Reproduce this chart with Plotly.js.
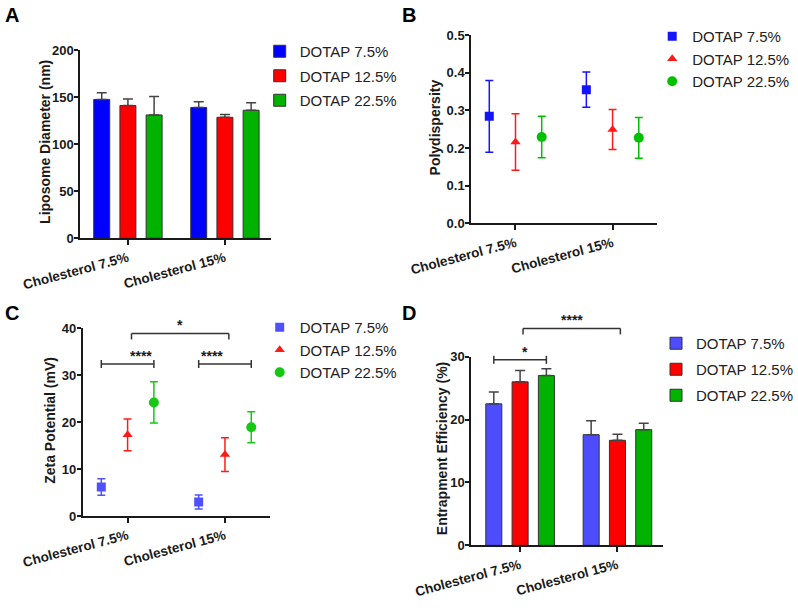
<!DOCTYPE html>
<html>
<head>
<meta charset="utf-8">
<script src="https://cdn.plot.ly/plotly-3.0.1.min.js"></script>
<style>
  html, body { margin: 0; padding: 0; background: #fff; }
  #chart { width: 798px; height: 608px; }
</style>
</head>
<body>
<div id="chart"></div>
<script>
// categories and series
var groups = ["Cholesterol 7.5%", "Cholesterol 15%"];
var dotap = ["DOTAP 7.5%", "DOTAP 12.5%", "DOTAP 22.5%"];

// A - liposome diameter (nm)
var dia75 = [147.5, 139], dia75Err = [7, 6];
var dia125 = [141, 128.5], dia125Err = [7, 3];
var dia225 = [131, 136], dia225Err = [19.5, 8];

// B - polydispersity
var pdi75 = [0.284, 0.355], pdi75Err = [0.095, 0.047];
var pdi125 = [0.216, 0.249], pdi125Err = [0.075, 0.053];
var pdi225 = [0.229, 0.227], pdi225Err = [0.055, 0.054];

// C - zeta potential (mV)
var zeta75 = [6.2, 3.0], zeta75Err = [1.75, 1.5];
var zeta125 = [17.3, 13.1], zeta125Err = [3.4, 3.6];
var zeta225 = [24.2, 18.9], zeta225Err = [4.4, 3.3];

// D - entrapment efficiency (%)
var ee75 = [22.5, 17.6], ee75Err = [1.9, 2.2];
var ee125 = [26.0, 16.7], ee125Err = [1.8, 0.95];
var ee225 = [27.0, 18.4], ee225Err = [1.1, 1.0];

var yTitles = ["Liposome Diameter (nm)", "Polydispersity", "Zeta Potential (mV)", "Entrapment Efficiency (%)"];

var font = "Arial, 'Liberation Sans', sans-serif";
var ink = "#1a1a1a";

var colA = ["#0000ff", "#ff0000", "#00b300"];
var colB = ["#1414ff", "#ff1a1a", "#00c000"];
var colC = ["#5050ff", "#ff1a1a", "#14c814"];
var colD = ["#4d4dff", "#ff0000", "#00b300"];
var symbols = ["square", "triangle-up", "circle"];

function upOnly(err) { return err.map(function () { return 0; }); }

function barTrace(vals, err, i, cols, xa, ya, leg) {
  return {
    type: "bar", x: groups, y: vals, name: dotap[i],
    xaxis: xa, yaxis: ya, legend: leg, legendgroup: leg + i,
    marker: { color: cols[i], line: { color: "#333", width: 1 } },
    error_y: { type: "data", array: err, arrayminus: upOnly(err), symmetric: false,
               color: "#444", thickness: 1.5, width: 5 }
  };
}

function dotTrace(vals, err, i, cols, xa, ya, leg, size) {
  return {
    type: "scatter", mode: "markers", x: groups, y: vals, name: dotap[i],
    xaxis: xa, yaxis: ya, legend: leg, legendgroup: leg + i,
    marker: { color: cols[i], symbol: symbols[i], size: size },
    error_y: { type: "data", array: err, color: cols[i], thickness: 1.5, width: 4 }
  };
}

var data = [
  barTrace(dia75, dia75Err, 0, colA, "x", "y", "legend"),
  barTrace(dia125, dia125Err, 1, colA, "x", "y", "legend"),
  barTrace(dia225, dia225Err, 2, colA, "x", "y", "legend"),
  dotTrace(pdi75, pdi75Err, 0, colB, "x2", "y2", "legend2", 9),
  dotTrace(pdi125, pdi125Err, 1, colB, "x2", "y2", "legend2", 9),
  dotTrace(pdi225, pdi225Err, 2, colB, "x2", "y2", "legend2", 10),
  dotTrace(zeta75, zeta75Err, 0, colC, "x3", "y3", "legend3", 9),
  dotTrace(zeta125, zeta125Err, 1, colC, "x3", "y3", "legend3", 9),
  dotTrace(zeta225, zeta225Err, 2, colC, "x3", "y3", "legend3", 10),
  barTrace(ee75, ee75Err, 0, colD, "x4", "y4", "legend4"),
  barTrace(ee125, ee125Err, 1, colD, "x4", "y4", "legend4"),
  barTrace(ee225, ee225Err, 2, colD, "x4", "y4", "legend4")
];

function xAxis(domain, range, anchor) {
  return {
    domain: domain, range: range, anchor: anchor, type: "category",
    showline: true, linecolor: ink, linewidth: 2, showgrid: false, zeroline: false,
    ticks: "outside", ticklen: 5, tickwidth: 2, tickcolor: ink, tickangle: -15,
    tickfont: { family: font, size: 13.5, color: ink, weight: "bold" }, automargin: false
  };
}

function yAxis(domain, range, dtick, anchor, fmt) {
  return {
    domain: domain, range: range, anchor: anchor, dtick: dtick, tickformat: fmt || "",
    showline: true, linecolor: ink, linewidth: 2, showgrid: false, zeroline: false,
    ticks: "outside", ticklen: 4, tickwidth: 2, tickcolor: ink, ticklabelstandoff: -2,
    tickfont: { family: font, size: 13, color: ink, weight: "bold" },
    automargin: false
  };
}

var rA = [-0.49, 1.47], rB = [-0.456, 1.459], rC = [-0.459, 1.458], rD = [-0.502, 1.468];
var yC = [0, 40], yD = [0, 30];

// significance brackets: x in category units, y in data units
var bracketsC = [
  { x0: -0.27, x1: 0.27, y: 32.4, label: "****", caps: "mid" },
  { x0: 0.73, x1: 1.27, y: 32.4, label: "****", caps: "mid" },
  { x0: 0.04, x1: 1.04, y: 38.9, label: "*", caps: "drop" }
];
var bracketsD = [
  { x0: -0.27, x1: 0.27, y: 29.5, label: "*", caps: "mid" },
  { x0: 0.03, x1: 1.03, y: 34.5, label: "****", caps: "drop" }
];

var shapes = [], annotations = [];

function addBrackets(list, xr, yr, xa, ya) {
  list.forEach(function (b) {
    var fx0 = (b.x0 - xr[0]) / (xr[1] - xr[0]);
    var fx1 = (b.x1 - xr[0]) / (xr[1] - xr[0]);
    var fy = (b.y - yr[0]) / (yr[1] - yr[0]);
    var line = { color: "#333", width: 1.5 };
    var xref = xa + " domain", yref = ya + " domain";
    shapes.push({ type: "line", xref: xref, yref: yref, x0: fx0, x1: fx1, y0: fy, y1: fy, line: line });
    [fx0, fx1].forEach(function (fx) {
      shapes.push({
        type: "line", xref: xref, yref: yref, ysizemode: "pixel", yanchor: fy,
        x0: fx, x1: fx, y0: b.caps === "mid" ? -4 : -6, y1: b.caps === "mid" ? 4 : 0, line: line
      });
    });
    annotations.push({
      xref: xref, yref: yref, x: (fx0 + fx1) / 2, y: fy, yanchor: "middle", yshift: 8,
      text: b.label, showarrow: false, font: { family: font, size: 14, color: ink, weight: "bold" }
    });
  });
}
addBrackets(bracketsC, rC, yC, "x3", "y3");
addBrackets(bracketsD, rD, yD, "x4", "y4");

// y-axis titles, placed by hand next to the tick labels
[["y", 45.5], ["y2", 442.5], ["y3", 51.5], ["y4", 449.5]].forEach(function (p, i) {
  annotations.push({
    xref: "paper", yref: p[0] + " domain", x: p[1] / 798, y: 0.5, yshift: 2,
    xanchor: "center", yanchor: "middle", textangle: -90, showarrow: false,
    text: yTitles[i], font: { family: font, size: 14, color: ink, weight: "bold" }
  });
});

[["A", 12, 15], ["B", 416, 15], ["C", 12, 313], ["D", 416, 313]].forEach(function (p) {
  annotations.push({
    xref: "paper", yref: "paper", x: p[1] / 798, y: 1 - p[2] / 608,
    text: p[0], showarrow: false, xanchor: "center", yanchor: "middle",
    font: { family: font, size: 20, color: "#000", weight: "bold" }
  });
});

function legendAt(px, py, gap) {
  return {
    x: px / 798, y: 1 - py / 608, xanchor: "left", yanchor: "top",
    bgcolor: "rgba(0,0,0,0)", tracegroupgap: gap,
    font: { family: font, size: 15, color: "#222" }
  };
}

var layout = {
  width: 798, height: 608,
  margin: { l: 0, r: 0, t: 0, b: 0 },
  paper_bgcolor: "#fff", plot_bgcolor: "#fff",
  barmode: "group", bargap: 0.19, bargroupgap: 0.39,
  scattermode: "group", scattergap: 0.19,
  xaxis: xAxis([0.1024, 0.3446], rA, "y"),
  yaxis: yAxis([0.6081, 0.9178], [0, 200], 50, "x"),
  xaxis2: xAxis([0.6003, 0.8371], rB, "y2"),
  yaxis2: yAxis([0.6327, 0.9424], [0, 0.5], 0.1, "x2", ".1f"),
  xaxis3: xAxis([0.1056, 0.3434], rC, "y3"),
  yaxis3: yAxis([0.1513, 0.46], yC, 10, "x3"),
  xaxis4: xAxis([0.6003, 0.8446], rD, "y4"),
  yaxis4: yAxis([0.1031, 0.4133], yD, 10, "x4"),
  legend: legendAt(264, 35, 2),
  legend2: legendAt(663, 20, 0),
  legend3: legendAt(264, 311, 0),
  legend4: legendAt(667, 327, 3.5),
  shapes: shapes,
  annotations: annotations,
  showlegend: true
};

Plotly.newPlot("chart", data, layout, { displayModeBar: false, staticPlot: true });
</script>
</body>
</html>
